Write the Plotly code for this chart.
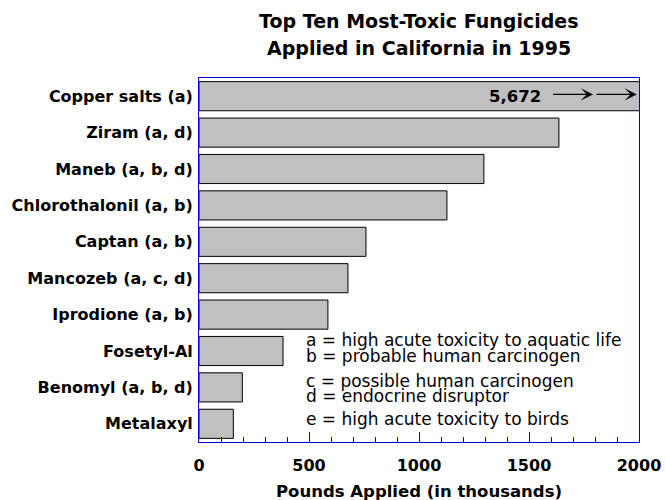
import plotly.graph_objects as go

fungicides = [
    "Copper salts (a)",
    "Ziram (a, d)",
    "Maneb (a, b, d)",
    "Chlorothalonil (a, b)",
    "Captan (a, b)",
    "Mancozeb (a, c, d)",
    "Iprodione (a, b)",
    "Fosetyl-Al",
    "Benomyl (a, b, d)",
    "Metalaxyl",
]
pounds_thousands = [5672, 1636, 1295, 1127, 759, 677, 586, 382, 197, 156]

key_lines = [
    "a = high acute toxicity to aquatic life",
    "b = probable human carcinogen",
    "c = possible human carcinogen",
    "d = endocrine disruptor",
    "e = high acute toxicity to birds",
]
key_y = [2.30, 1.85, 1.18, 0.77, 0.12]

AXIS_BLUE = "#0000cc"
FONT = "DejaVu Sans, Verdana, sans-serif"

fig = go.Figure(
    go.Bar(
        x=pounds_thousands,
        y=fungicides,
        orientation="h",
        marker=dict(color="#c0c0c0", line=dict(color="black", width=1)),
        hoverinfo="x+y",
    )
)

fig.update_layout(
    width=666,
    height=500,
    margin=dict(l=199, r=27, t=78, b=58),
    plot_bgcolor="white",
    paper_bgcolor="white",
    showlegend=False,
    bargap=0.2,
    font=dict(family=FONT, color="black"),
)

fig.update_xaxes(
    range=[0, 2000],
    tickvals=[0, 500, 1000, 1500, 2000],
    tickfont=dict(size=16, family=FONT, weight="bold"),
    ticks="inside",
    ticklen=10,
    tickwidth=1,
    tickcolor=AXIS_BLUE,
    minor=dict(dtick=100, ticks="inside", ticklen=5, tickwidth=1, tickcolor=AXIS_BLUE),
    showline=True,
    linecolor=AXIS_BLUE,
    linewidth=1,
    mirror=True,
    showgrid=False,
    zeroline=False,
    tickformat="d",
    ticklabelstandoff=9,
    automargin=False,
)
fig.update_yaxes(
    categoryorder="array",
    categoryarray=fungicides[::-1],
    range=[-0.5, 9.5],
    tickfont=dict(size=16, family=FONT, weight="bold"),
    showline=True,
    linecolor=AXIS_BLUE,
    linewidth=1,
    mirror=True,
    ticks="",
    ticklabelstandoff=2,
    showgrid=False,
    automargin=False,
)

# title lines and x-axis title
for text, yp, size in [
    ("Top Ten Most-Toxic Fungicides", 1.157, 19),
    ("Applied in California in 1995", 1.082, 19),
    ("Pounds Applied (in thousands)", -0.135, 16.5),
]:
    fig.add_annotation(
        x=0.5, y=yp, xref="paper", yref="paper",
        text=f"<b>{text}</b>", showarrow=False,
        xanchor="center", yanchor="middle",
        font=dict(size=size, family=FONT),
    )

# clipped value of the top bar
fig.add_annotation(
    x=1565, y=9.0, xref="x", yref="y",
    text="<b>5,672</b>", showarrow=False, xanchor="right",
    font=dict(size=16.5, family=FONT),
)
for tail, head in [(1603, 1791), (1800, 1990)]:
    fig.add_annotation(
        x=head, y=9.05, ax=tail, ay=9.05,
        xref="x", yref="y", axref="x", ayref="y",
        text="", showarrow=True, arrowhead=3, arrowsize=1.7,
        arrowwidth=1.2, arrowcolor="black",
    )

for line, yv in zip(key_lines, key_y):
    fig.add_annotation(
        x=478, y=yv, xref="x", yref="y",
        text=line, showarrow=False, xanchor="left", yanchor="middle",
        font=dict(size=17, family=FONT),
    )

fig.write_html(
    "out.html",
    config={"displayModeBar": False},
    post_script="document.body.style.margin='0px';",
)
